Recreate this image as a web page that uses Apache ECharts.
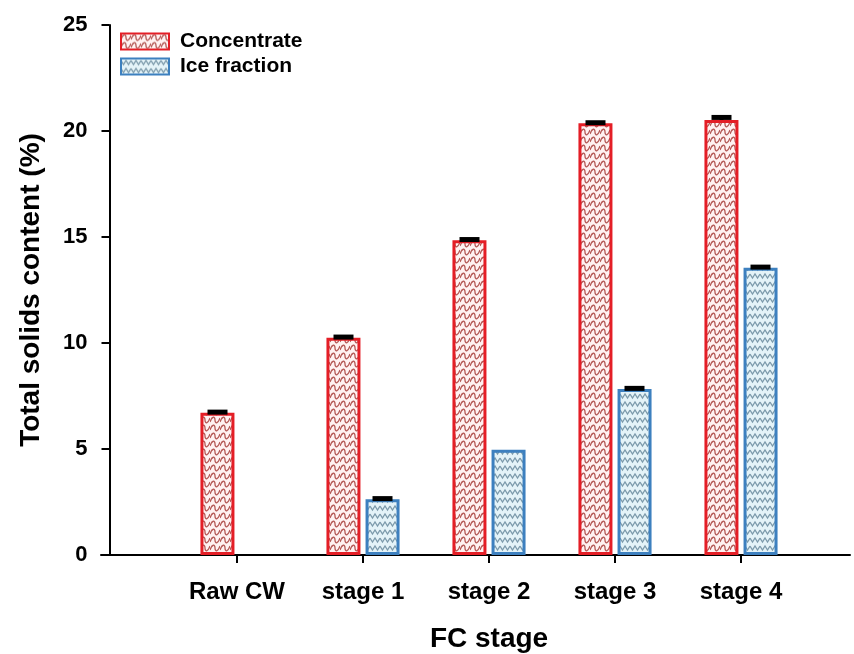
<!DOCTYPE html>
<html>
<head>
<meta charset="utf-8">
<script src="https://cdn.jsdelivr.net/npm/echarts@6/dist/echarts.min.js"></script>
<style>html,body{margin:0;padding:0;background:#fff;}#c{width:854px;height:654px;}</style>
</head>
<body>
<div id="c"></div>
<script>
const categories = ['Raw CW', 'stage 1', 'stage 2', 'stage 3', 'stage 4'];
const concentrate = [6.71, 10.25, 14.85, 20.36, 20.52];
const iceFraction = [null, 2.63, 4.97, 7.83, 13.55];
const concErr = [0.03, 0.03, 0.03, 0.03, 0.12];
const iceErr = [null, 0.03, 0, 0.03, 0.03];
const yMin = 0, yMax = 25, yStep = 5;

function makePattern(kind) {
  const c = document.createElement('canvas');
  const w = 10, h = 8;
  c.width = w; c.height = h;
  const g = c.getContext('2d');
  if (kind === 'conc') {
    g.fillStyle = '#fff2f2'; g.fillRect(0, 0, w, h);
    g.strokeStyle = '#b55a57'; g.lineWidth = 1.3;
    g.beginPath();
    g.moveTo(0, 6); g.bezierCurveTo(2, 0, 5, 0, 5, 4); g.bezierCurveTo(5, 8, 8, 8, 10, 2);
    g.stroke();
  } else {
    g.fillStyle = '#e4f3f8'; g.fillRect(0, 0, w, h);
    g.strokeStyle = '#7c9aab'; g.lineWidth = 1.3;
    g.beginPath();
    g.moveTo(0, 2); g.lineTo(2.5, 6); g.lineTo(5, 2); g.lineTo(7.5, 6); g.lineTo(10, 2);
    g.stroke();
  }
  return { image: c, repeat: 'repeat' };
}

const FONT = "'Liberation Sans', Arial, sans-serif";
const BAR_OFF = 19.5;

function errRender(offset) {
  return function (params, api) {
    const i = api.value(0), v = api.value(1), e = api.value(2);
    if (v == null || isNaN(v) || !e) return;
    const p0 = api.coord([i, v]);
    const p1 = api.coord([i, v + e]);
    const x = p0[0] + offset;
    return {
      type: 'group',
      children: [
        { type: 'line', shape: { x1: x, y1: p0[1], x2: x, y2: p1[1] }, style: { stroke: '#000', lineWidth: 4 } },
        { type: 'line', shape: { x1: x - 10, y1: p1[1], x2: x + 10, y2: p1[1] }, style: { stroke: '#000', lineWidth: 5 } }
      ]
    };
  };
}

const chart = echarts.init(document.getElementById('c'), null, { renderer: 'canvas' });
chart.setOption({
  animation: false,
  backgroundColor: '#fff',
  textStyle: { fontFamily: FONT },
  legend: {
    orient: 'vertical', left: 120, top: 31, padding: 0,
    itemWidth: 48, itemHeight: 16, itemGap: 4,
    icon: 'rect',
    textStyle: { fontFamily: FONT, fontWeight: 'bold', fontSize: 21, color: '#000', padding: [0, 0, 0, 6] },
    data: ['Concentrate', 'Ice fraction']
  },
  grid: [
    { left: 174, right: 50, top: 25, bottom: 99, containLabel: false, outerBoundsMode: 'none' },
    { left: 101, right: 4, top: 25, bottom: 99, containLabel: false, outerBoundsMode: 'none' }
  ],
  xAxis: [
    {
      type: 'category', gridIndex: 0, data: categories, boundaryGap: true,
      axisLine: { show: false },
      axisTick: { show: true, alignWithLabel: true, length: 8, lineStyle: { color: '#000', width: 2 } },
      axisLabel: { margin: 25, fontFamily: FONT, fontWeight: 'bold', fontSize: 24, color: '#000' },
      name: 'FC stage', nameLocation: 'middle', nameGap: 70,
      nameTextStyle: { fontFamily: FONT, fontWeight: 'bold', fontSize: 28, color: '#000' },
      splitLine: { show: false }
    },
    {
      type: 'value', gridIndex: 1, min: 0, max: 1,
      axisLine: { show: true, onZero: false, lineStyle: { color: '#000', width: 2 } },
      axisTick: { show: false }, axisLabel: { show: false }, splitLine: { show: false }
    }
  ],
  yAxis: [
    {
      type: 'value', gridIndex: 0, min: yMin, max: yMax, interval: yStep, offset: 64.5,
      axisLine: { show: true, lineStyle: { color: '#000', width: 2 } },
      axisTick: { show: true, length: 8, lineStyle: { color: '#000', width: 2 } },
      axisLabel: { margin: 22, fontFamily: FONT, fontWeight: 'bold', fontSize: 22, color: '#000' },
      splitLine: { show: false },
      name: 'Total solids content (%)', nameLocation: 'middle', nameGap: 64, nameRotate: 90,
      nameTextStyle: { fontFamily: FONT, fontWeight: 'bold', fontSize: 28, color: '#000' }
    },
    {
      type: 'value', gridIndex: 1, min: yMin, max: yMax, show: false
    }
  ],
  series: [
    {
      name: 'Concentrate', type: 'bar', xAxisIndex: 0, yAxisIndex: 0,
      data: concentrate, barWidth: 34, barGap: '15%',
      itemStyle: { color: makePattern('conc'), borderColor: '#e41e26', borderWidth: 3 }
    },
    {
      name: 'Ice fraction', type: 'bar', xAxisIndex: 0, yAxisIndex: 0,
      data: iceFraction, barWidth: 34, barGap: '15%',
      itemStyle: { color: makePattern('ice'), borderColor: '#3d80bf', borderWidth: 3 }
    },
    {
      type: 'custom', xAxisIndex: 0, yAxisIndex: 0, z: 5,
      renderItem: errRender(-BAR_OFF),
      data: concentrate.map((v, i) => [i, v, concErr[i]])
    },
    {
      type: 'custom', xAxisIndex: 0, yAxisIndex: 0, z: 5,
      renderItem: errRender(BAR_OFF),
      data: iceFraction.map((v, i) => [i, v, iceErr[i]])
    }
  ]
});
</script>
</body>
</html>
